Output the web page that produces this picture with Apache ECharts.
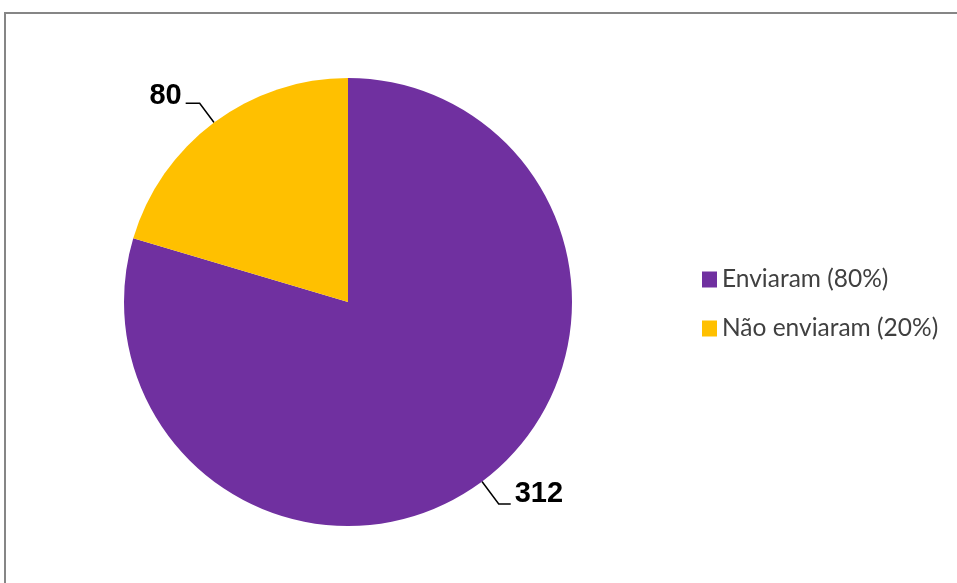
<!DOCTYPE html>
<html><head><meta charset="utf-8">
<script src="https://cdn.jsdelivr.net/npm/echarts@6/dist/echarts.min.js"></script>
<style>html,body{margin:0;padding:0;background:#fff}#c{width:957px;height:583px}</style>
</head><body><div id="c"></div>
<script>
const categories = ["Enviaram", "Não enviaram"];
const values = [312, 80];
const legendLabels = ["Enviaram (80%)", "Não enviaram (20%)"];
const colors = ["#7030A0", "#FFC000"];

const chart = echarts.init(document.getElementById('c'), null, {renderer: 'canvas'});
const lineLens = [[28, 12], [24, 14]];
const gapLine = [20, 14];
const data = categories.map((c, i) => ({
  name: legendLabels[i],
  value: values[i],
  itemStyle: {color: colors[i]},
  labelLine: {length: lineLens[i][0], length2: lineLens[i][1]},
  label: {rich: {g: {height: gapLine[i], lineHeight: gapLine[i], fontSize: 1}}}
}));
chart.setOption({
  animation: false,
  backgroundColor: '#fff',
  graphic: [{
    type: 'rect', shape: {x: 5, y: 13, width: 960, height: 580},
    style: {fill: 'none', stroke: '#868686', lineWidth: 2}, z: 10
  }],
  legend: {
    orient: 'vertical', left: 702, top: 267, padding: 0,
    itemWidth: 15, itemHeight: 16, itemGap: 24,
    icon: 'rect',
    textStyle: {fontFamily: 'Lato', fontSize: 24.5, color: '#404040', lineHeight: 24},
    data: legendLabels
  },
  series: [{
    type: 'pie',
    center: [348, 302],
    radius: 224,
    startAngle: 90,
    clockwise: true,
    data: data,
    label: {
      show: true, position: 'outside', formatter: '{v|{c}}\n{g|}',
      rich: {v: {fontFamily: 'Liberation Sans', fontWeight: 'bold', fontSize: 29, color: '#000', lineHeight: 30}},
      distanceToLabelLine: 4
    },
    labelLine: {show: true, smooth: false, lineStyle: {color: '#000', width: 1.5}},
    emphasis: {disabled: true}
  }]
});
</script></body></html>
